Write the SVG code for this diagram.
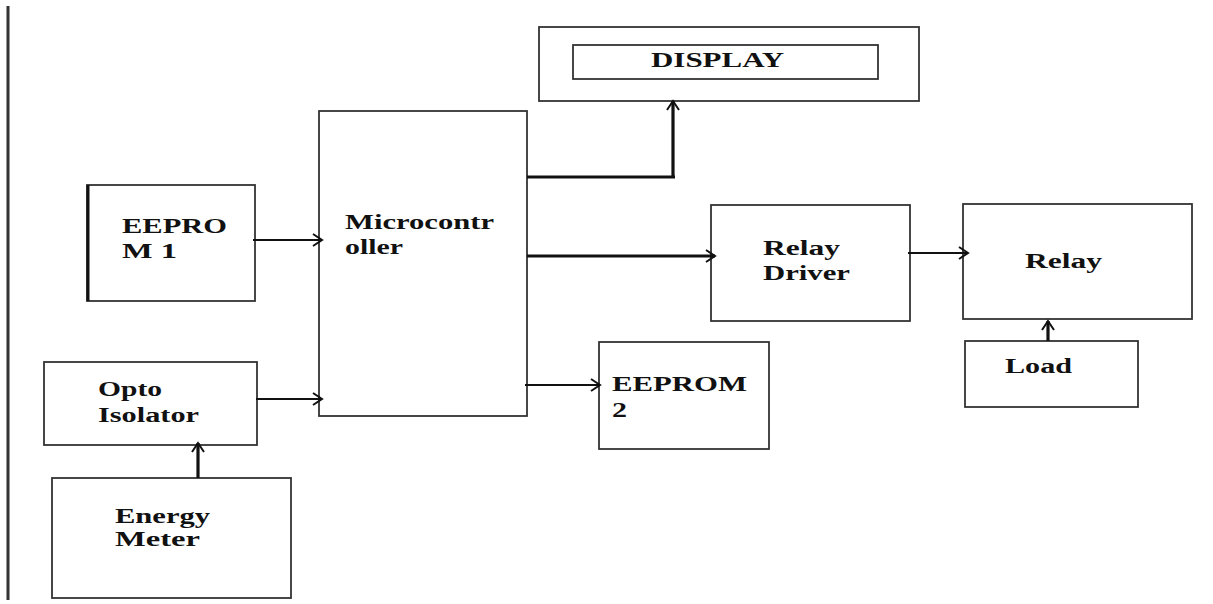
<svg xmlns="http://www.w3.org/2000/svg" width="1213" height="604" viewBox="0 0 1213 604">
<style>
.box{fill:#fff;stroke:#333;stroke-width:1.8}
.t{font-family:"Liberation Serif","Times New Roman",serif;font-weight:bold;font-size:20px;fill:#111}
.c{fill:none;stroke:#111;stroke-width:2.2}
.ct{fill:none;stroke:#111;stroke-width:3.2}
</style>
<defs>
<marker id="ah" markerUnits="userSpaceOnUse" markerWidth="16" markerHeight="16" refX="12" refY="8" orient="auto">
<path d="M3 2 L12 8 L3 14" fill="none" stroke="#111" stroke-width="2"/>
</marker>
</defs>
<rect width="1213" height="604" fill="#fff"/>
<line x1="8" y1="6" x2="8" y2="600" stroke="#333" stroke-width="3"/>

<g id="eeprom1">
<rect class="box" x="87" y="185" width="168" height="116"/>
<line x1="88" y1="185" x2="88" y2="301" stroke="#111" stroke-width="3"/>
<text class="t" x="122" y="233" textLength="105" lengthAdjust="spacingAndGlyphs">EEPRO</text>
<text class="t" x="122" y="258" textLength="55" lengthAdjust="spacingAndGlyphs">M 1</text>
</g>
<g id="microcontroller">
<rect class="box" x="319" y="111" width="208" height="305"/>
<text class="t" x="345" y="229" textLength="149" lengthAdjust="spacingAndGlyphs">Microcontr</text>
<text class="t" x="345" y="254" textLength="58" lengthAdjust="spacingAndGlyphs">oller</text>
</g>
<g id="display">
<rect class="box" x="539" y="27" width="380" height="74"/>
<rect class="box" x="573" y="45" width="305" height="34"/>
<text class="t" x="651" y="67" textLength="133" lengthAdjust="spacingAndGlyphs">DISPLAY</text>
</g>
<g id="relay-driver">
<rect class="box" x="711" y="205" width="199" height="116"/>
<text class="t" x="763" y="255" textLength="77" lengthAdjust="spacingAndGlyphs">Relay</text>
<text class="t" x="763" y="280" textLength="87" lengthAdjust="spacingAndGlyphs">Driver</text>
</g>
<g id="relay">
<rect class="box" x="963" y="204" width="229" height="115"/>
<text class="t" x="1025" y="268" textLength="77" lengthAdjust="spacingAndGlyphs">Relay</text>
</g>
<g id="load">
<rect class="box" x="965" y="341" width="173" height="66"/>
<text class="t" x="1005" y="373" textLength="67" lengthAdjust="spacingAndGlyphs">Load</text>
</g>
<g id="eeprom2">
<rect class="box" x="599" y="342" width="170" height="107"/>
<text class="t" x="612" y="391" textLength="135" lengthAdjust="spacingAndGlyphs">EEPROM</text>
<text class="t" x="612" y="417" textLength="15" lengthAdjust="spacingAndGlyphs">2</text>
</g>
<g id="opto-isolator">
<rect class="box" x="44" y="362" width="213" height="83"/>
<text class="t" x="98" y="396" textLength="64" lengthAdjust="spacingAndGlyphs">Opto</text>
<text class="t" x="98" y="422" textLength="101" lengthAdjust="spacingAndGlyphs">Isolator</text>
</g>
<g id="energy-meter">
<rect class="box" x="52" y="478" width="239" height="120"/>
<text class="t" x="115" y="523" textLength="95" lengthAdjust="spacingAndGlyphs">Energy</text>
<text class="t" x="115" y="546" textLength="85" lengthAdjust="spacingAndGlyphs">Meter</text>
</g>

<g id="connectors">
<path class="c" d="M253 240 H322" marker-end="url(#ah)"/>
<path class="c" d="M256 399 H322" marker-end="url(#ah)"/>
<path class="ct" d="M198 478 V443" marker-end="url(#ah)"/>
<path class="ct" d="M527 177 H675 M673 178 V101" marker-end="url(#ah)"/>
<path class="ct" d="M527 256 H715" marker-end="url(#ah)"/>
<path class="c" d="M525 385 H600" marker-end="url(#ah)"/>
<path class="c" d="M908 253 H968" marker-end="url(#ah)"/>
<path class="ct" d="M1048 341 V321" marker-end="url(#ah)"/>
</g>
</svg>
